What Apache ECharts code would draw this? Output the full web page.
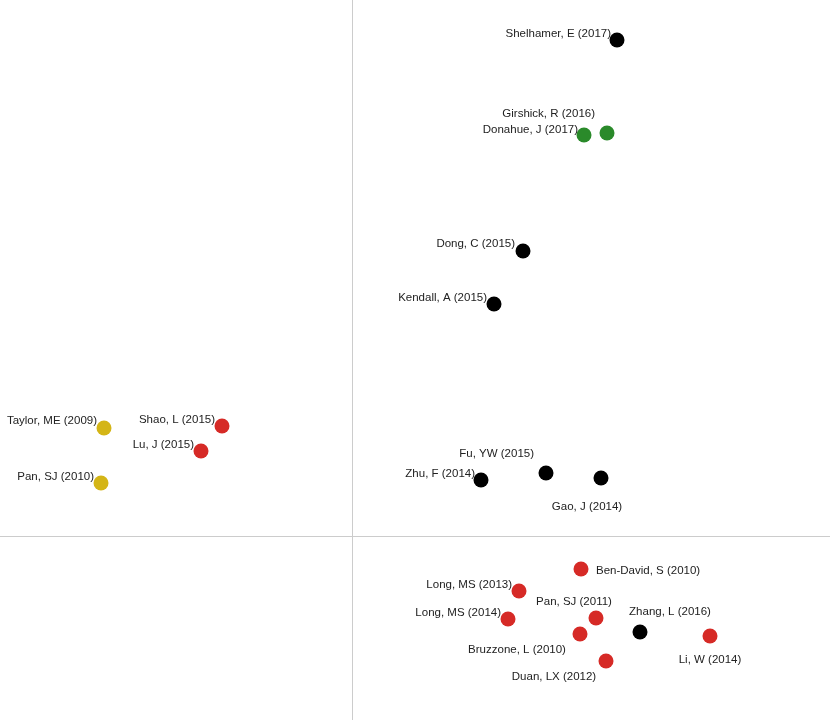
<!DOCTYPE html>
<html><head><meta charset="utf-8">
<script src="https://cdn.jsdelivr.net/npm/echarts@6/dist/echarts.min.js"></script>
<style>html,body{margin:0;padding:0;background:#fff}#c{width:830px;height:720px}</style>
</head><body><div id="c"></div>
<script>
var names = ["Shelhamer, E (2017)","Girshick, R (2016)","Donahue, J (2017)","Dong, C (2015)","Kendall, A (2015)","Taylor, ME (2009)","Shao, L (2015)","Lu, J (2015)","Pan, SJ (2010)","Fu, YW (2015)","Zhu, F (2014)","Gao, J (2014)","Ben-David, S (2010)","Long, MS (2013)","Long, MS (2014)","Pan, SJ (2011)","Zhang, L (2016)","Bruzzone, L (2010)","Li, W (2014)","Duan, LX (2012)"];
var xs = [2.65,2.55,2.32,1.71,1.42,-2.48,-1.30,-1.51,-2.51,1.94,1.29,2.49,2.29,1.67,1.56,2.44,2.88,2.28,3.58,2.54];
var ys = [4.96,4.03,4.01,2.85,2.32,1.08,1.10,0.85,0.53,0.63,0.56,0.58,-0.33,-0.55,-0.83,-0.82,-0.96,-0.98,-1.00,-1.25];
var groups = ["black","green","green","black","black","yellow","red","red","yellow","black","black","black","red","red","red","red","black","red","red","red"];

var groupColors = {black:"#000000", green:"#2a8a2a", yellow:"#d4b516", red:"#d62a26"};
// label placement styles: [position, distance, dx, dy]
var labelStyle = [
  ["left",-1.5,0,-6],["left",4.5,0,-19],["left",-1.5,0,-5],["left",0.5,0,-7],["left",-0.5,0,-6],
  ["left",-0.5,0,-7],["left",-0.5,0,-6],["left",-0.5,0,-6],["left",-0.5,0,-6],["left",4.5,0,-19],
  ["left",-1.5,0,-6],["bottom",14,-14,1],["right",7.5,0,2],["left",-0.5,0,-6],["left",-0.5,0,-6],
  ["top",4,-22,1],["top",8,30,1],["bottom",1,-63,1],["bottom",9,0,1],["bottom",1,-52,1]
];

var series = [];
["yellow","red","green","black"].forEach(function(g){
  var data = [];
  for (var i=0;i<names.length;i++){
    if (groups[i]!==g) continue;
    var s = labelStyle[i];
    data.push({name:names[i], value:[xs[i], ys[i]], label:{position:s[0], distance:s[1], offset:[s[2], s[3]]}});
  }
  series.push({type:"scatter", symbolSize:15, itemStyle:{color:groupColors[g], opacity:1}, data:data,
    label:{show:true, formatter:"{b}", color:"#222", fontSize:11.5, fontFamily:"Liberation Sans, Arial, sans-serif"},
    emphasis:{disabled:true}, silent:true});
});

var chart = echarts.init(document.getElementById("c"));
chart.setOption({
  animation:false,
  grid:{left:0,right:0,top:0,bottom:0},
  xAxis:{type:"value", min:-3.52, max:4.78, axisLine:{show:true, onZero:true, lineStyle:{color:"#cccccc", width:1}}, axisTick:{show:false}, axisLabel:{show:false}, splitLine:{show:false}},
  yAxis:{type:"value", min:-1.84, max:5.36, axisLine:{show:true, onZero:true, lineStyle:{color:"#cccccc", width:1}}, axisTick:{show:false}, axisLabel:{show:false}, splitLine:{show:false}},
  series:series
});
</script></body></html>
